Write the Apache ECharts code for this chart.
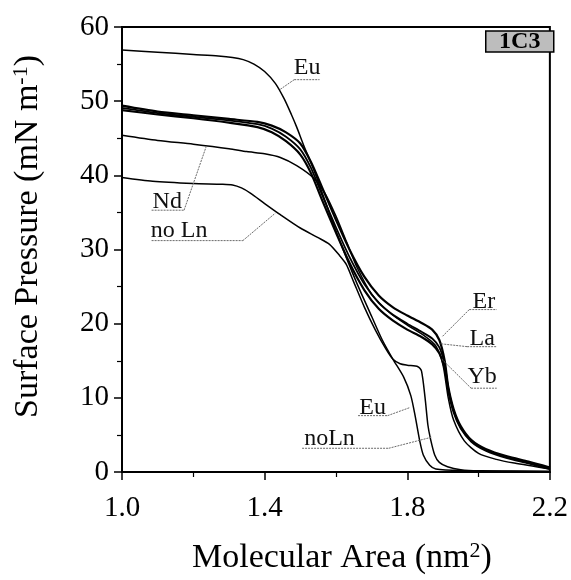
<!DOCTYPE html>
<html>
<head>
<meta charset="utf-8">
<script src="https://cdn.jsdelivr.net/npm/echarts@6/dist/echarts.min.js"></script>
<style>html,body{margin:0;padding:0;background:#fff}#c{width:571px;height:580px}</style>
</head>
<body>
<div id="c"></div>
<script>
// ---- data (x: molecular area nm^2, y: surface pressure mN/m) ----
const xTicks = [1.0, 1.4, 1.8, 2.2];
const yTicks = [0, 10, 20, 30, 40, 50, 60];

const euData = [[1.0,56.9],[1.1,56.6],[1.2,56.3],[1.27,56.1],[1.31,55.9],[1.34,55.6],[1.37,55.0],[1.4,54.0],[1.43,52.4],[1.455,50.3],[1.475,48.2],[1.49,46.5],[1.51,44.0],[1.54,40.5],[1.57,36.5],[1.6,32.5],[1.63,28.8],[1.66,25.3],[1.7,21.0],[1.73,17.8],[1.76,15.2],[1.79,12.8],[1.81,10.3],[1.822,7.6],[1.835,4.2],[1.845,2.3],[1.863,0.9],[1.88,0.4],[1.95,0.2],[2.2,0.1]];
const noLnData = [[1.0,39.7],[1.086,39.2],[1.2,38.9],[1.28,38.8],[1.31,38.7],[1.335,38.3],[1.36,37.6],[1.4,36.2],[1.444,34.7],[1.5,32.9],[1.55,31.6],[1.582,30.7],[1.61,29.2],[1.629,28.0],[1.65,25.6],[1.68,22.2],[1.71,19.2],[1.74,16.6],[1.76,15.2],[1.78,14.6],[1.80,14.4],[1.83,14.2],[1.84,13.6],[1.85,10.0],[1.858,6.3],[1.865,4.5],[1.877,2.3],[1.89,1.3],[1.913,0.7],[1.95,0.3],[2.0,0.15],[2.2,0.05]];
const ndData = [[1.0,45.4],[1.1,44.7],[1.2,44.2],[1.3,43.6],[1.35,43.2],[1.4,42.9],[1.444,42.4],[1.49,41.3],[1.538,39.6],[1.57,37.5],[1.6,34.5],[1.63,31.0],[1.66,27.5],[1.7,24.0],[1.75,21.5],[1.8,19.8],[1.85,18.3],[1.88,17.0],[1.9,14.5],[1.915,10.0],[1.93,7.0],[1.96,4.2],[2.0,2.5],[2.05,1.7],[2.1,1.2],[2.2,0.4]];
const erData = [[1.0,49.4],[1.1,48.6],[1.2,48.1],[1.3,47.6],[1.38,47.2],[1.42,46.7],[1.46,45.8],[1.5,44.3],[1.53,41.8],[1.56,38.5],[1.6,34.0],[1.64,29.8],[1.68,26.3],[1.72,23.8],[1.76,22.2],[1.8,21.1],[1.84,20.1],[1.87,19.2],[1.89,17.8],[1.905,15.0],[1.915,11.5],[1.93,8.5],[1.95,6.2],[1.98,4.3],[2.02,3.1],[2.08,2.1],[2.14,1.4],[2.2,0.6]];
const laData = [[1.0,49.1],[1.1,48.4],[1.2,47.9],[1.3,47.4],[1.38,46.9],[1.42,46.3],[1.46,45.2],[1.5,43.5],[1.53,41.0],[1.56,37.5],[1.6,33.0],[1.64,28.8],[1.68,25.3],[1.72,22.8],[1.76,21.2],[1.8,20.0],[1.84,18.9],[1.87,18.0],[1.89,16.8],[1.905,14.5],[1.915,11.3],[1.93,8.3],[1.95,6.0],[1.98,4.2],[2.02,3.0],[2.08,2.0],[2.14,1.3],[2.2,0.5]];
const ybData = [[1.0,48.8],[1.1,48.2],[1.2,47.7],[1.3,47.1],[1.38,46.5],[1.42,45.8],[1.46,44.6],[1.5,42.8],[1.53,40.3],[1.56,36.8],[1.6,32.3],[1.64,28.0],[1.68,24.5],[1.72,22.0],[1.76,20.4],[1.8,19.2],[1.84,18.2],[1.87,17.2],[1.89,16.0],[1.905,14.0],[1.915,11.0],[1.93,8.1],[1.95,5.9],[1.98,4.1],[2.02,2.9],[2.08,1.9],[2.14,1.2],[2.2,0.4]];

// annotation labels and where their leader lines point (data units)
const annoLabels  = ['Eu', 'Nd', 'no Ln', 'Er', 'La', 'Yb', 'Eu', 'noLn'];
const annoTextPos = [[1.519,54.5],[1.127,36.5],[1.16,32.5],[2.015,22.9],[2.01,18.0],[2.01,12.9],[1.703,8.7],[1.582,4.5]];
const annoUnder   = [[1.483,1.554,52.9],[1.083,1.174,35.3],[1.083,1.339,31.2],[1.974,2.051,21.9],[1.968,2.051,16.9],[1.979,2.051,11.3],[1.662,1.745,7.6],[1.505,1.748,3.2]];
const annoFromLeft = [true, false, false, true, true, true, false, false];
const annoTarget  = [[1.444,51.6],[1.237,44.0],[1.43,34.9],[1.899,18.3],[1.891,17.3],[1.897,15.2],[1.808,8.7],[1.869,4.7]];
const badgeText = '1C3';

// ---- chart ----
const FONT = '"Liberation Serif", "Times New Roman", serif';
const chart = echarts.init(document.getElementById('c'), null, {renderer: 'canvas'});

function curve(name, data, width) {
  return {
    name: name, type: 'line', data: data, showSymbol: false, smooth: 0.25,
    lineStyle: {color: '#000', width: width}, silent: true, z: 3
  };
}

const annoSeries = {
  type: 'custom', silent: true, z: 4,
  data: annoLabels.map((l, i) => [i]),
  renderItem: function (params, api) {
    const i = api.value(0);
    const t = api.coord(annoTextPos[i]);
    const u1 = api.coord([annoUnder[i][0], annoUnder[i][2]]);
    const u2 = api.coord([annoUnder[i][1], annoUnder[i][2]]);
    const start = annoFromLeft[i] ? u1 : u2;
    const tg = api.coord(annoTarget[i]);
    const lineStyle = {stroke: '#6a6a6a', lineWidth: 1, lineDash: [2, 1]};
    return {
      type: 'group',
      children: [
        {type: 'line', shape: {x1: u1[0], y1: u1[1], x2: u2[0], y2: u2[1]}, style: lineStyle},
        {type: 'line', shape: {x1: start[0], y1: start[1], x2: tg[0], y2: tg[1]}, style: lineStyle},
        {type: 'text', x: t[0], y: t[1], style: {text: annoLabels[i], fontFamily: FONT, fontSize: 24, fill: '#111', align: 'center', verticalAlign: 'middle'}}
      ]
    };
  }
};

const supRich = {sup: {fontFamily: FONT, fontSize: 22, color: '#000', verticalAlign: 'top', padding: [0, 0, 14, 0]}};

const option = {
  backgroundColor: '#fff',
  animation: false,
  grid: {left: 122, right: 14, top: 27, bottom: 103, show: true, borderColor: '#000', borderWidth: 2, backgroundColor: 'transparent'},
  xAxis: {
    type: 'value', min: xTicks[0], max: xTicks[xTicks.length - 1], interval: 0.4,
    axisLine: {show: true, lineStyle: {color: '#000', width: 2}},
    axisTick: {show: true, length: 8, lineStyle: {color: '#000', width: 1.5}},
    minorTick: {show: true, splitNumber: 2, length: 5, lineStyle: {color: '#000', width: 1.2}},
    splitLine: {show: false},
    axisLabel: {fontFamily: FONT, fontSize: 29, color: '#000', margin: 22, formatter: v => v.toFixed(1)},
    name: 'Molecular Area (nm{sup|2})', nameLocation: 'middle', nameGap: 68,
    nameTextStyle: {fontFamily: FONT, fontSize: 34, color: '#000', padding: [0, 0, 0, 12], rich: supRich}
  },
  yAxis: {
    type: 'value', min: yTicks[0], max: yTicks[yTicks.length - 1], interval: 10,
    axisLine: {show: true, lineStyle: {color: '#000', width: 2}},
    axisTick: {show: true, length: 8, lineStyle: {color: '#000', width: 1.5}},
    minorTick: {show: true, splitNumber: 2, length: 5, lineStyle: {color: '#000', width: 1.2}},
    splitLine: {show: false},
    axisLabel: {fontFamily: FONT, fontSize: 29, color: '#000', margin: 13},
    name: 'Surface Pressure (mN m{sup|-1})', nameLocation: 'middle', nameGap: 76, nameRotate: 90,
    nameTextStyle: {fontFamily: FONT, fontSize: 34, color: '#000', padding: [0, 0, 0, 26], rich: supRich}
  },
  graphic: [
    {type: 'group', left: 485, top: 30, children: [
      {type: 'rect', shape: {x: 0, y: 0, width: 68, height: 21}, style: {fill: '#bdbdbd', stroke: '#000', lineWidth: 1.5}},
      {type: 'text', x: 34, y: 11, style: {text: badgeText, fontFamily: FONT, fontWeight: 'bold', fontSize: 24, fill: '#000', align: 'center', verticalAlign: 'middle'}}
    ]}
  ],
  series: [
    curve('Eu', euData, 1.5),
    curve('no Ln', noLnData, 1.5),
    curve('Nd', ndData, 1.5),
    curve('Er', erData, 2.2),
    curve('La', laData, 1.8),
    curve('Yb', ybData, 2.2),
    annoSeries
  ]
};
chart.setOption(option);
</script>
</body>
</html>
